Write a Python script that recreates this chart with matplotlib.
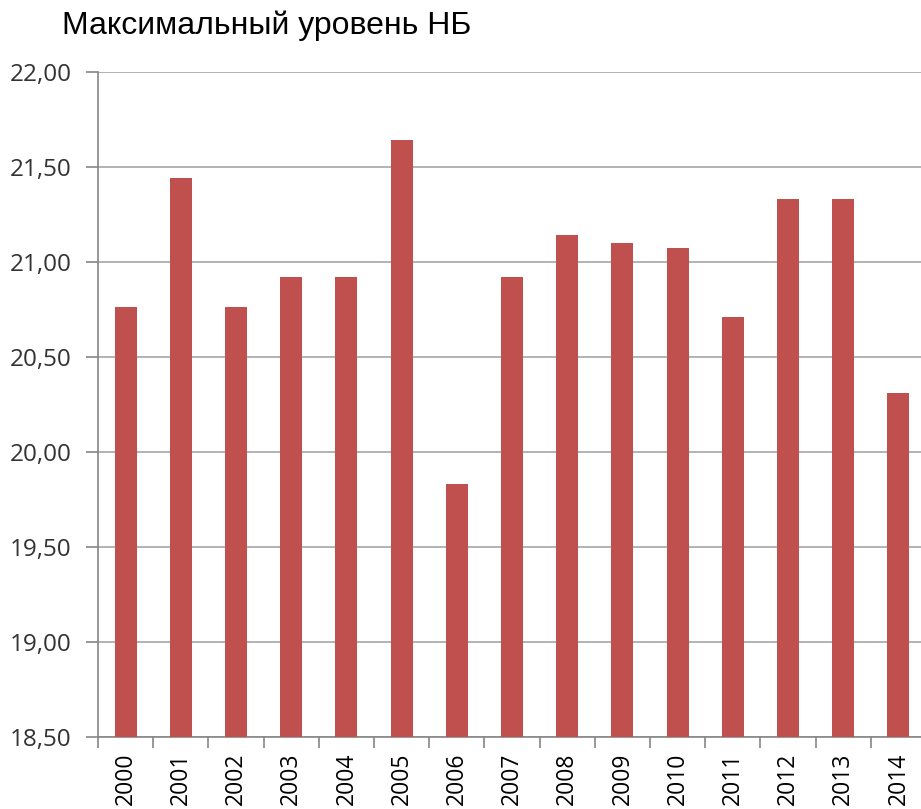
import matplotlib
matplotlib.use('Agg')
import matplotlib.pyplot as plt
import numpy as np

# Данные
years = ['2000', '2001', '2002', '2003', '2004', '2005', '2006', '2007',
         '2008', '2009', '2010', '2011', '2012', '2013', '2014']
levels = [20.76, 21.44, 20.76, 20.92, 20.92, 21.64, 19.83, 20.92,
          21.14, 21.10, 21.07, 20.71, 21.33, 21.33, 20.31]
yticks = [18.5, 19.0, 19.5, 20.0, 20.5, 21.0, 21.5, 22.0]

W, H = 921, 809
fig = plt.figure(figsize=(W / 100, H / 100), dpi=100)
ax = fig.add_axes([98 / W, (H - 737) / H, (926 - 98) / W, (737 - 71.7) / H])

x = np.arange(len(years))
ax.bar(x, levels, width=0.4, color='#C0504D', zorder=3)

ax.set_xlim(-0.5, len(years) - 0.5)
ax.set_ylim(18.5, 22.0)

# Сетка и оси
ax.set_yticks(yticks)
ax.set_yticklabels([f'{v:.2f}'.replace('.', ',') for v in yticks],
                   fontfamily='Open Sans', fontsize=17.5, color='#333333')
ax.yaxis.grid(True, color='#a6a6a6', linewidth=1.2, zorder=0)
ax.tick_params(axis='y', length=9, width=1.2, color='#868686', pad=10)

ax.set_xticks(x)
ax.set_xticklabels(years, rotation=90, fontfamily='Open Sans', fontsize=16.5)
ax.set_xticks(np.arange(-0.5, len(years) + 0.5, 1), minor=True)
ax.tick_params(axis='x', which='major', length=0, pad=11)
ax.tick_params(axis='x', which='minor', length=8, width=1.2, color='#868686')

for s in ['top', 'right']:
    ax.spines[s].set_visible(False)
for s in ['left', 'bottom']:
    ax.spines[s].set_color('#868686')
    ax.spines[s].set_linewidth(1.2)

fig.text(62 / W, 1 - 34 / H, 'Максимальный уровень НБ', fontfamily='Liberation Sans',
         fontsize=23, ha='left', va='baseline')

fig.savefig('out.png', dpi=100)
